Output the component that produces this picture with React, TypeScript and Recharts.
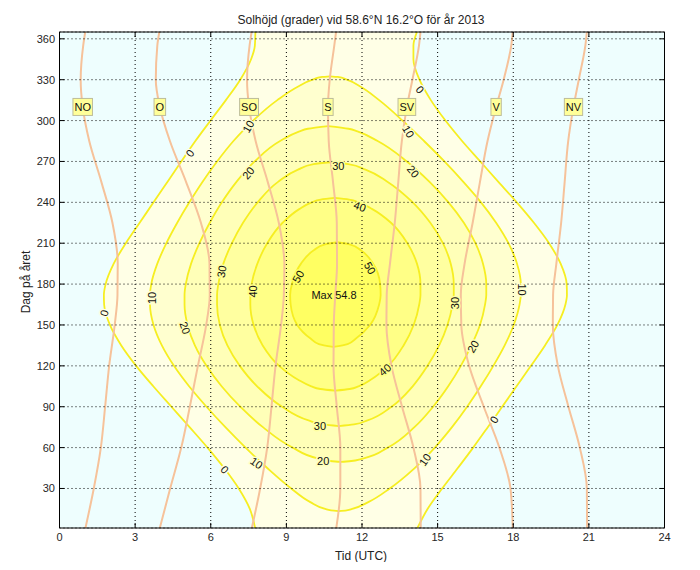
import React from 'react';
import {
  ComposedChart,
  Area,
  Line,
  XAxis,
  YAxis,
  CartesianGrid,
  ReferenceArea,
  ReferenceLine,
  ReferenceDot,
} from 'recharts';

// [dag, tid vänster (h UTC), tid höger (h UTC)]
type Row = [number, number, number];

const hourTicks = [0, 3, 6, 9, 12, 15, 18, 21, 24];
const dayTicks = [30, 60, 90, 120, 150, 180, 210, 240, 270, 300, 330, 360];

const level0: Row[] = [
  [1, 7.76, 14.2], [15, 7.55, 14.6], [30, 7.11, 15.18], [45, 6.53, 15.8],
  [60, 5.87, 16.41], [75, 5.16, 16.99], [90, 4.44, 17.56], [105, 3.72, 18.13],
  [120, 3.04, 18.7], [135, 2.45, 19.26], [150, 2.0, 19.75], [165, 1.77, 20.07],
  [172, 1.76, 20.13], [180, 1.83, 20.12], [195, 2.15, 19.88], [210, 2.63, 19.42],
  [225, 3.18, 18.82], [240, 3.73, 18.14], [255, 4.28, 17.41], [270, 4.83, 16.69],
  [285, 5.39, 15.97], [300, 5.99, 15.31], [315, 6.6, 14.73], [330, 7.17, 14.28],
  [345, 7.6, 14.04], [355, 7.75, 14.04], [365, 7.77, 14.18],
];
const level10: Row[] = [
  [13.4, 11.07, 11.07], [14, 10.77, 11.39], [15, 10.54, 11.61], [20, 9.95, 12.25],
  [30, 9.19, 13.1], [45, 8.24, 14.09], [60, 7.38, 14.89], [75, 6.58, 15.57],
  [90, 5.83, 16.17], [105, 5.14, 16.71], [120, 4.54, 17.21], [135, 4.06, 17.66],
  [150, 3.73, 18.02], [165, 3.59, 18.25], [172, 3.59, 18.3], [180, 3.64, 18.3],
  [195, 3.88, 18.15], [210, 4.24, 17.81], [225, 4.67, 17.32], [240, 5.15, 16.72],
  [255, 5.67, 16.02], [270, 6.25, 15.27], [285, 6.9, 14.46], [300, 7.68, 13.61],
  [315, 8.64, 12.68], [325, 9.47, 11.93], [330, 10.04, 11.4], [332, 10.42, 11.04],
  [332.5, 10.73, 10.73],
];
const level20: Row[] = [
  [49.6, 11.16, 11.16], [50, 10.82, 11.5], [52, 10.27, 12.04], [60, 9.25, 13.02],
  [75, 8.07, 14.08], [90, 7.17, 14.82], [105, 6.43, 15.42], [120, 5.83, 15.92],
  [135, 5.37, 16.34], [150, 5.08, 16.68], [165, 4.96, 16.88], [172, 4.96, 16.93],
  [180, 5.01, 16.93], [195, 5.22, 16.8], [210, 5.55, 16.5], [225, 5.96, 16.04],
  [240, 6.44, 15.43], [255, 7.02, 14.68], [270, 7.74, 13.78], [285, 8.75, 12.62],
  [292, 9.52, 11.82], [294, 9.85, 11.47], [296, 10.66, 10.66],
];
const level30: Row[] = [
  [75.8, 11.08, 11.08], [77, 10.46, 11.68], [80, 9.88, 12.22], [90, 8.83, 13.17],
  [105, 7.84, 14.01], [120, 7.15, 14.6], [135, 6.66, 15.06], [150, 6.36, 15.39],
  [165, 6.25, 15.59], [172, 6.25, 15.64], [180, 6.3, 15.64], [195, 6.5, 15.52],
  [210, 6.84, 15.21], [225, 7.28, 14.71], [240, 7.86, 14.01], [255, 8.67, 13.02],
  [264, 9.46, 12.14], [268, 10.08, 11.46], [269.4, 10.76, 10.76],
];
const level40: Row[] = [
  [101.8, 10.94, 10.94], [103, 10.35, 11.51], [105, 9.99, 11.86], [110, 9.45, 12.36],
  [120, 8.71, 13.04], [135, 8.06, 13.65], [150, 7.7, 14.05], [165, 7.57, 14.27],
  [172, 7.57, 14.32], [180, 7.62, 14.32], [195, 7.85, 14.18], [210, 8.24, 13.8],
  [225, 8.85, 13.15], [235, 9.51, 12.41], [240, 10.01, 11.86], [242, 10.36, 11.49],
  [243.2, 10.92, 10.92],
];
const level50: Row[] = [
  [133.9, 10.86, 10.86], [136, 10.29, 11.43], [140, 9.96, 11.76], [150, 9.43, 12.32],
  [165, 9.17, 12.68], [172, 9.15, 12.74], [180, 9.22, 12.72], [195, 9.58, 12.44],
  [205, 10.1, 11.94], [209, 10.5, 11.54], [210.7, 11.02, 11.02],
];

const levels = [level0, level10, level20, level30, level40, level50];
const bandFill = ['#ffffe6', '#ffffcf', '#ffffb8', '#ffffa0', '#ffff86', '#ffff62'];

// riktningslinjer (tid då solen står i respektive väderstreck)
const azDays = [1, 30, 60, 90, 120, 150, 172, 195, 225, 255, 285, 310, 330, 355, 365];
const azNO = [1.03, 1.36, 1.64, 1.81, 1.97, 2.19, 2.3, 2.31, 2.1, 1.66, 1.18, 0.92, 0.84, 0.94, 1.02];
const azO = [3.98, 4.39, 4.83, 5.17, 5.49, 5.82, 5.96, 5.95, 5.61, 5.02, 4.38, 3.98, 3.82, 3.88, 3.96];
const azSO = [7.63, 7.96, 8.24, 8.41, 8.57, 8.79, 8.9, 8.92, 8.7, 8.26, 7.78, 7.52, 7.44, 7.54, 7.62];
const azS = [10.98, 11.14, 11.14, 11.0, 10.87, 10.88, 10.94, 11.01, 11.0, 10.85, 10.68, 10.65, 10.72, 10.9, 10.97];
const azSV = [14.33, 14.32, 14.04, 13.59, 13.17, 12.97, 12.98, 13.11, 13.3, 13.44, 13.58, 13.78, 14.0, 14.26, 14.32];
const azV = [17.98, 17.89, 17.45, 16.83, 16.25, 15.94, 15.92, 16.07, 16.39, 16.68, 16.98, 17.32, 17.62, 17.92, 17.98];
const azNV = [20.93, 20.92, 20.64, 20.19, 19.77, 19.57, 19.58, 19.71, 19.9, 20.04, 20.18, 20.39, 20.6, 20.86, 20.92];

const azNames = ['NO', 'O', 'SO', 'S', 'SV', 'V', 'NV'];
const azLines = [azNO, azO, azSO, azS, azSV, azV, azNV];
const azLabelIndex = 11; // dag 310

// [text, tid, dag, vinkel]
const contourLabels: [string, number, number, number][] = [
  ['0', 5.18, 276, -55], ['0', 14.3, 322.7, 50],
  ['10', 7.49, 295.7, -60], ['10', 13.84, 292, 60],
  ['20', 7.49, 261.5, -50], ['20', 14.03, 262.7, 50],
  ['30', 11.06, 266.9, 0], ['40', 11.92, 237, 20],
  ['50', 9.47, 185.6, -60], ['50', 12.32, 191.8, 60],
  ['30', 6.43, 189.3, -80], ['40', 7.69, 174.6, -90],
  ['10', 3.66, 169.8, -90], ['0', 1.77, 158.8, -75],
  ['20', 4.98, 147.8, 70], ['30', 15.69, 166.1, -90],
  ['10', 18.33, 176, 90], ['20', 16.41, 134.3, -60],
  ['40', 12.91, 117.2, -40], ['0', 17.24, 80.5, -60],
  ['10', 14.5, 51.1, -55], ['30', 10.33, 75.6, 0],
  ['20', 10.46, 49.9, 0], ['10', 7.82, 48.7, 35],
  ['0', 6.56, 43.8, 45],
];

const maxLabel = { text: 'Max 54.8', h: 10.89, d: 171.7 };

const font = 'Liberation Sans, Arial, Helvetica, sans-serif';
const charW: Record<string, number> = { N: 0.722, O: 0.778, S: 0.667, V: 0.667 };

const XTick = (p: any) => (
  <text x={p.x} y={p.y + 12.5} textAnchor="middle" fontSize={11} fontFamily={font} fill="#262626">
    {p.payload.value}
  </text>
);

const YTick = (p: any) => (
  <text x={p.x - 4.5} y={p.y + 4} textAnchor="end" fontSize={11} fontFamily={font} fill="#262626">
    {p.payload.value}
  </text>
);

export default function App() {
  return (
    <div style={{ position: 'relative', width: 684, height: 554, fontFamily: font }}>
      <ComposedChart
        width={684}
        height={554}
        layout="vertical"
        margin={{ top: 24, right: 27.5, bottom: 4, left: 0 }}
      >
        <XAxis
          type="number"
          domain={[0, 24]}
          ticks={hourTicks}
          interval={0}
          allowDataOverflow
          axisLine={false}
          tickLine={false}
          tickSize={0}
          tickMargin={0}
          height={30}
          tick={XTick}
        />
        <YAxis
          type="number"
          dataKey="d"
          domain={[1, 365]}
          ticks={dayTicks}
          interval={0}
          reversed
          allowDataOverflow
          axisLine={false}
          tickLine={false}
          tickSize={0}
          tickMargin={0}
          width={51.5}
          tick={YTick}
        />
        <CartesianGrid horizontal={false} vertical={false} fill="#eefefe" />

        {levels.map((rows, i) => (
          <Area
            key={'lvl' + i}
            data={rows.map(([d, l, r]) => ({ d, r: [l, r] }))}
            dataKey="r"
            type="monotone"
            fill={bandFill[i]}
            fillOpacity={1}
            stroke="#f6ee22"
            strokeWidth={1.8}
            dot={false}
            activeDot={false}
            isAnimationActive={false}
          />
        ))}

        {azLines.map((vals, i) => (
          <Line
            key={'az' + i}
            data={azDays.map((d, k) => ({ d, h: vals[k] }))}
            dataKey="h"
            type="monotone"
            stroke="#f6c29a"
            strokeWidth={2}
            dot={false}
            activeDot={false}
            isAnimationActive={false}
          />
        ))}

        <CartesianGrid stroke="#000" strokeDasharray="1 3" fill="none" zIndex={450} />

        <ReferenceArea x1={0} x2={24} y1={1} y2={365} fill="none" stroke="#000" strokeWidth={1} fillOpacity={0} zIndex={500} />

        {hourTicks.map((t) => (
          <ReferenceLine key={'xb' + t} segment={[{ x: t, y: 1 }, { x: t, y: 4.7 }]} stroke="#000" zIndex={500} />
        ))}
        {hourTicks.map((t) => (
          <ReferenceLine key={'xt' + t} segment={[{ x: t, y: 365 }, { x: t, y: 361.3 }]} stroke="#000" zIndex={500} />
        ))}
        {dayTicks.map((t) => (
          <ReferenceLine key={'yl' + t} segment={[{ x: 0, y: t }, { x: 0.2, y: t }]} stroke="#000" zIndex={500} />
        ))}
        {dayTicks.map((t) => (
          <ReferenceLine key={'yr' + t} segment={[{ x: 24, y: t }, { x: 23.8, y: t }]} stroke="#000" zIndex={500} />
        ))}

        {contourLabels.map(([t, h, d, a], i) => (
          <ReferenceDot
            key={'cl' + i}
            x={h}
            y={d}
            r={0}
            zIndex={2000}
            shape={(p: any) => (
              <text
                x={p.cx}
                y={p.cy}
                transform={`rotate(${a} ${p.cx} ${p.cy})`}
                textAnchor="middle"
                dominantBaseline="central"
                fontSize={11}
                fontFamily={font}
                fill="#111"
                stroke={bandFill[Number(t) / 10]}
                strokeWidth={3}
                paintOrder="stroke"
              >
                {t}
              </text>
            )}
          />
        ))}

        <ReferenceDot
          x={maxLabel.h}
          y={maxLabel.d}
          r={0}
          zIndex={2000}
          shape={(p: any) => (
            <text x={p.cx} y={p.cy} textAnchor="middle" dominantBaseline="central" fontSize={11} fontFamily={font} fill="#111">
              {maxLabel.text}
            </text>
          )}
        />

        {azNames.map((name, i) => {
          const w = name.split('').reduce((s, c) => s + (charW[c] || 0.7) * 11, 0) + 3;
          return (
            <ReferenceDot
              key={'azl' + name}
              x={azLines[i][azLabelIndex]}
              y={azDays[azLabelIndex]}
              r={0}
              zIndex={2000}
              shape={(p: any) => (
                <g>
                  <rect x={p.cx - w / 2} y={p.cy - 8.5} width={w} height={17} fill="#ffff99" stroke="#bdbd9a" strokeWidth={1} />
                  <text x={p.cx} y={p.cy + 4} textAnchor="middle" fontSize={11} fontFamily={font} fill="#111">
                    {name}
                  </text>
                </g>
              )}
            />
          );
        })}
      </ComposedChart>

      <div style={{ position: 'absolute', left: 53, width: 600, top: 5, textAlign: 'center', fontSize: 12, lineHeight: '14px', color: '#222' }}>
        Solhöjd (grader) vid 58.6°N 16.2°O för år 2013
      </div>
      <div style={{ position: 'absolute', left: 253, width: 200, top: 541, textAlign: 'center', fontSize: 12, lineHeight: '14px', color: '#222' }}>
        Tid (UTC)
      </div>
      <div
        style={{
          position: 'absolute',
          left: 18 - 60,
          top: 274 - 7,
          width: 120,
          textAlign: 'center',
          fontSize: 12,
          lineHeight: '14px',
          color: '#222',
          transform: 'rotate(-90deg)',
        }}
      >
        Dag på året
      </div>
    </div>
  );
}
